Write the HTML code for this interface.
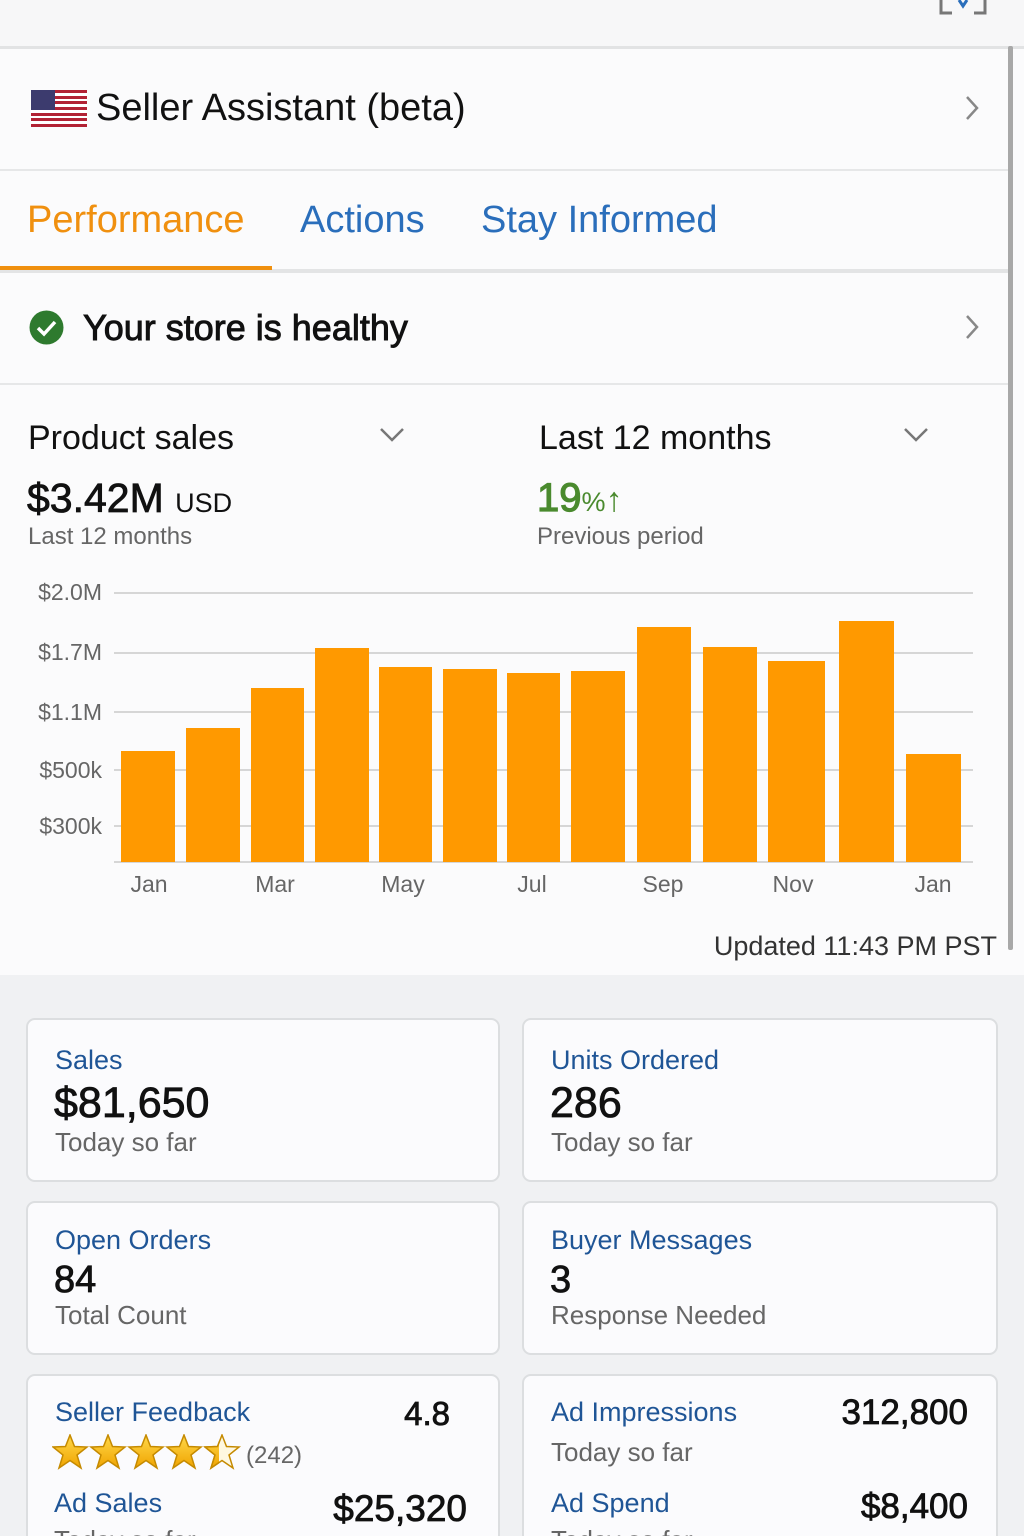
<!DOCTYPE html>
<html><head><meta charset="utf-8"><style>
*{margin:0;padding:0;box-sizing:border-box}
html,body{width:1024px;height:1536px;overflow:hidden}
body{background:#fbfbfc;font-family:"Liberation Sans",sans-serif;position:relative;color:#111}
.t{position:absolute;line-height:1;white-space:nowrap}
.hl{position:absolute;left:0;width:1008px;height:2px;background:#e6e7e8}
.card{position:absolute;background:#fbfbfd;border:2px solid #dcdee0;border-radius:9px}
.blue{color:#1f5596}
.gray{color:#666}
.r{text-align:right}
.num{-webkit-text-stroke:0.8px #111;color:#111}
</style></head><body>
<div style="position:absolute;left:0;top:0;width:1024px;height:46px;background:#f7f7f8"></div>
<svg style="position:absolute;left:938px;top:0" width="50" height="18"><path d="M3 0V13H14M47 0V13H36" stroke="#777" stroke-width="3" fill="none"/><path d="M21 0L25 6L29 0" stroke="#2a6ebb" stroke-width="3" fill="none"/></svg>
<div class="hl" style="top:46px;height:3px;width:1024px;background:#e2e3e4"></div>
<div style="position:absolute;left:1008px;top:46px;width:5px;height:904px;background:#a8a8a8;border-radius:2px"></div>
<svg style="position:absolute;left:31px;top:90px" width="56" height="37"><rect width="56" height="37" fill="#fff"/><g fill="#b22234"><rect y="0" width="56" height="3"/><rect y="6" width="56" height="3"/><rect y="11" width="56" height="3"/><rect y="17" width="56" height="3"/><rect y="23" width="56" height="3"/><rect y="28" width="56" height="3"/><rect y="34" width="56" height="3"/></g><rect width="24" height="20" fill="#3c3b6e"/></svg>
<div class="t" style="left:96px;top:89px;font-size:38px;color:#111">Seller Assistant (beta)</div>
<svg style="position:absolute;left:962px;top:94px" width="20" height="28"><path d="M5 3L15 14L5 25" stroke="#888" stroke-width="2.5" fill="none"/></svg>
<div class="hl" style="top:169px"></div>
<div class="t" style="left:27px;top:201px;font-size:38px;color:#f0900f">Performance</div>
<div class="t" style="left:300px;top:201px;font-size:38px;color:#2a6ebb">Actions</div>
<div class="t" style="left:481px;top:201px;font-size:38px;color:#2a6ebb">Stay Informed</div>
<div class="hl" style="top:269px;height:4px;background:#e3e4e5"></div>
<div style="position:absolute;left:0;top:266px;width:272px;height:4px;background:#f0900f"></div>
<svg style="position:absolute;left:29px;top:310px" width="35" height="35"><circle cx="17.5" cy="17.5" r="17" fill="#2e7a2e"/><path d="M9 18L15 24L26 12" stroke="#fff" stroke-width="3.5" fill="none"/></svg>
<div class="t" style="left:83px;top:310px;font-size:36px;color:#111;-webkit-text-stroke:0.9px #111">Your store is healthy</div>
<svg style="position:absolute;left:962px;top:313px" width="20" height="28"><path d="M5 3L15 14L5 25" stroke="#888" stroke-width="2.5" fill="none"/></svg>
<div class="hl" style="top:383px"></div>
<div class="t" style="left:28px;top:421px;font-size:34px">Product sales</div>
<svg style="position:absolute;left:379px;top:427px" width="26" height="16"><path d="M2 2L13 13L24 2" stroke="#777" stroke-width="2.5" fill="none"/></svg>
<div class="t" style="left:539px;top:421px;font-size:34px">Last 12 months</div>
<svg style="position:absolute;left:903px;top:427px" width="26" height="16"><path d="M2 2L13 13L24 2" stroke="#777" stroke-width="2.5" fill="none"/></svg>
<div class="t num" style="left:27px;top:478px;font-size:41px">$3.42M <span style="font-size:27px;-webkit-text-stroke:0">USD</span></div>
<div class="t" style="left:537px;top:478px;font-size:40px;color:#4a8a2e;-webkit-text-stroke:1.2px #4a8a2e">19<span style="font-size:27px;-webkit-text-stroke:0">%</span><span style="font-size:34px;-webkit-text-stroke:0">↑</span></div>
<div class="t gray" style="left:28px;top:525px;font-size:24px">Last 12 months</div>
<div class="t gray" style="left:537px;top:525px;font-size:24px">Previous period</div>
<svg style="position:absolute;left:0;top:570px" width="1024" height="340">
<g stroke="#c9c9c9" stroke-width="1.5"><line x1="114" y1="23" x2="973" y2="23"/><line x1="114" y1="83" x2="973" y2="83"/><line x1="114" y1="142" x2="973" y2="142"/><line x1="114" y1="200" x2="973" y2="200"/><line x1="114" y1="256" x2="973" y2="256"/><line x1="114" y1="292" x2="973" y2="292"/></g>
<g font-family="Liberation Sans" font-size="23" fill="#666" text-anchor="end"><text x="102" y="30">$2.0M</text><text x="102" y="90">$1.7M</text><text x="102" y="150">$1.1M</text><text x="102" y="208">$500k</text><text x="102" y="264">$300k</text></g>
<g fill="#ff9900">
<rect x="121" y="181" width="54" height="111"/><rect x="186" y="158" width="54" height="134"/><rect x="251" y="118" width="53" height="174"/><rect x="315" y="78" width="54" height="214"/><rect x="379" y="97" width="53" height="195"/><rect x="443" y="99" width="54" height="193"/><rect x="507" y="103" width="53" height="189"/><rect x="571" y="101" width="54" height="191"/><rect x="637" y="57" width="54" height="235"/><rect x="703" y="77" width="54" height="215"/><rect x="768" y="91" width="57" height="201"/><rect x="839" y="51" width="55" height="241"/><rect x="906" y="184" width="55" height="108"/></g>
<g font-family="Liberation Sans" font-size="23" fill="#666" text-anchor="middle"><text x="149" y="322">Jan</text><text x="275" y="322">Mar</text><text x="403" y="322">May</text><text x="532" y="322">Jul</text><text x="663" y="322">Sep</text><text x="793" y="322">Nov</text><text x="933" y="322">Jan</text></g>
</svg>
<div class="t r" style="right:27px;top:933px;font-size:27px;color:#333">Updated 11:43 PM PST</div>
<div style="position:absolute;left:0;top:975px;width:1024px;height:561px;background:#f0f1f3"></div>
<div class="card" style="left:26px;top:1018px;width:474px;height:164px"></div>
<div class="card" style="left:522px;top:1018px;width:476px;height:164px"></div>
<div class="card" style="left:26px;top:1201px;width:474px;height:154px"></div>
<div class="card" style="left:522px;top:1201px;width:476px;height:154px"></div>
<div class="card" style="left:26px;top:1374px;width:474px;height:200px"></div>
<div class="card" style="left:522px;top:1374px;width:476px;height:200px"></div>
<div class="t blue" style="left:55px;top:1047px;font-size:27px">Sales</div>
<div class="t num" style="left:54px;top:1082px;font-size:43px">$81,650</div>
<div class="t gray" style="left:55px;top:1129px;font-size:26px">Today so far</div>
<div class="t blue" style="left:551px;top:1047px;font-size:27px">Units Ordered</div>
<div class="t num" style="left:550px;top:1082px;font-size:43px">286</div>
<div class="t gray" style="left:551px;top:1129px;font-size:26px">Today so far</div>
<div class="t blue" style="left:55px;top:1227px;font-size:27px">Open Orders</div>
<div class="t num" style="left:54px;top:1261px;font-size:38px">84</div>
<div class="t gray" style="left:55px;top:1302px;font-size:26px">Total Count</div>
<div class="t blue" style="left:551px;top:1227px;font-size:27px">Buyer Messages</div>
<div class="t num" style="left:550px;top:1261px;font-size:38px">3</div>
<div class="t gray" style="left:551px;top:1302px;font-size:26px">Response Needed</div>
<div class="t blue" style="left:55px;top:1399px;font-size:27px">Seller Feedback</div>
<div class="t r num" style="right:574px;top:1397px;font-size:33px">4.8</div>
<svg style="position:absolute;left:52px;top:1434px" width="192" height="36">
<defs><linearGradient id="g" x1="0" y1="0" x2="0" y2="1"><stop offset="0" stop-color="#ffd84a"/><stop offset="1" stop-color="#f0a400"/></linearGradient>
<clipPath id="c"><rect x="0" y="0" width="15" height="36"/></clipPath>
<polygon id="s" points="18,1 22.5,12.5 35,13 25,21 29,34 18,26.5 7,34 11,21 1,13 13.5,12.5" stroke="#c58a00" stroke-width="1.5"/></defs>
<use href="#s" x="0" fill="url(#g)"/><use href="#s" x="38" fill="url(#g)"/><use href="#s" x="76" fill="url(#g)"/><use href="#s" x="114" fill="url(#g)"/>
<g transform="translate(152,0)"><use href="#s" fill="#fff8e0"/><use href="#s" fill="url(#g)" clip-path="url(#c)"/></g>
</svg>
<div class="t gray" style="left:246px;top:1444px;font-size:24px">(242)</div>
<div class="t blue" style="left:54px;top:1490px;font-size:27px">Ad Sales</div>
<div class="t r num" style="right:557px;top:1490px;font-size:37px">$25,320</div>
<div class="t gray" style="left:54px;top:1527px;font-size:26px">Today so far</div>
<div class="t blue" style="left:551px;top:1399px;font-size:27px">Ad Impressions</div>
<div class="t r num" style="right:56px;top:1395px;font-size:35px">312,800</div>
<div class="t gray" style="left:551px;top:1439px;font-size:26px">Today so far</div>
<div class="t blue" style="left:551px;top:1490px;font-size:27px">Ad Spend</div>
<div class="t r num" style="right:56px;top:1489px;font-size:35px">$8,400</div>
<div class="t gray" style="left:551px;top:1527px;font-size:26px">Today so far</div>
</body></html>
